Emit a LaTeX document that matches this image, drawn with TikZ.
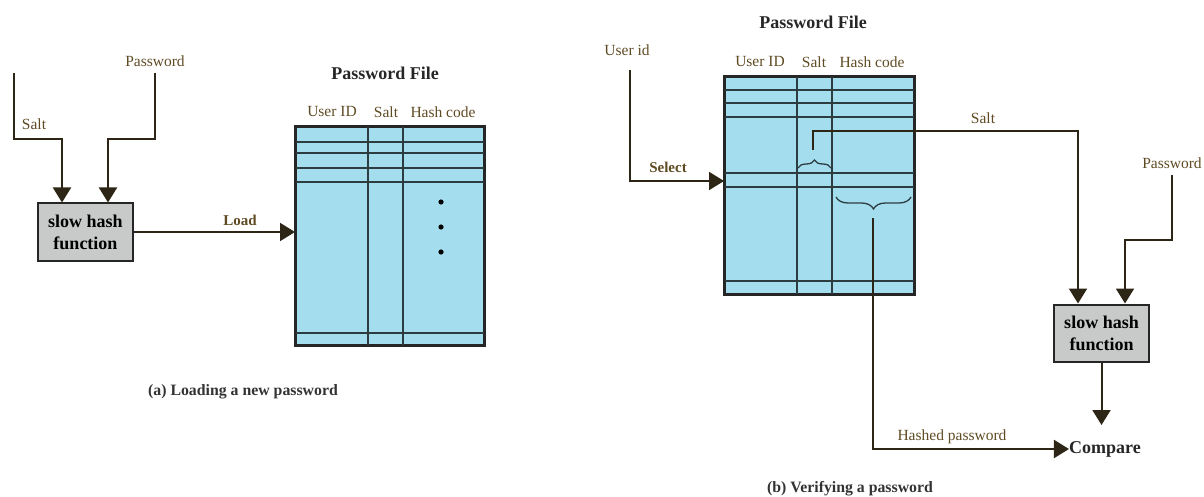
\documentclass[tikz,border=0pt]{standalone}
\usepackage{fontspec}
\setmainfont{Liberation Serif}
\usetikzlibrary{arrows.meta,decorations.pathreplacing}
\definecolor{tblfill}{RGB}{164,221,237}
\definecolor{boxfill}{RGB}{200,202,202}
\definecolor{conn}{RGB}{45,38,22}
\definecolor{lab}{RGB}{95,75,35}
\definecolor{rowc}{RGB}{45,60,65}
\tikzset{
  lbl/.style={inner sep=0pt, text=lab, font=\fontsize{15.5}{18}\selectfont},
  blbl/.style={inner sep=0pt, text=lab, font=\fontsize{15}{18}\selectfont\bfseries},
  ttl/.style={inner sep=0pt, text=black!85, font=\fontsize{18}{22}\selectfont\bfseries},
  captxt/.style={inner sep=0pt, text=black!80, font=\fontsize{15.8}{18}\selectfont\bfseries},
  hashbox/.style={draw=black!85, line width=2pt, fill=boxfill, inner sep=0pt,
    minimum width=95pt, minimum height=57pt, align=center,
    font=\fontsize{18}{22}\selectfont\bfseries},
  tbl/.style={draw=black!85, line width=2pt, fill=tblfill, inner sep=0pt},
  rowline/.style={draw=rowc, line width=1.8pt},
  colline/.style={draw=rowc, line width=1.5pt},
  wire/.style={draw=conn, line width=2pt},
  arr/.style={wire, -{Triangle[length=15pt,width=18pt]}},
  brc/.style={draw=rowc, line width=1.3pt, decorate},
}
\begin{document}
\begin{tikzpicture}[x=1pt,y=-1pt]
\useasboundingbox (0,0) rectangle (1204,497);

% ---------------- (a) Loading ----------------
\node[hashbox] (hL) at (85.5,232) {slow hash\\function};
\coordinate (saltL) at (14,73);
\coordinate (pwL) at (155,73);
\node[lbl] (saltLlab) at (34,124) {Salt};
\node[lbl] (pwLlab) at (155,61) {Password};
\draw[arr] (saltL) |- (62,139) -- (hL.north -| 62,0);
\draw[arr] (pwL) |- (108,139) -- (hL.north -| 108,0);

\node[tbl, minimum width=188pt, minimum height=218pt] (tL) at (390,236) {};
\foreach \y in {142,153,168,182,333}
  \draw[rowline] (tL.west |- 0,\y) -- (tL.east |- 0,\y);
\foreach \x in {368,403}
  \draw[colline] (\x,0 |- tL.north) -- (\x,0 |- tL.south);
\draw[tbl, fill=none] (tL.north west) rectangle (tL.south east);
\foreach \y in {202,227,252}
  \fill[black] (441,\y) circle (2.6pt);
\node[ttl] (pfL) at (385,73) {Password File};
\node[lbl] at (332,112) {User ID};
\node[lbl] at (386,112) {Salt};
\node[lbl] at (443,112) {Hash code};

\draw[arr] (hL.east) -- (tL.west |- hL.east);
\node[blbl] (loadlab) at (240,220) {Load};

\node[captxt] (capa) at (243,392) {(a) Loading a new password};

% ---------------- (b) Verifying ----------------
\node[tbl, minimum width=189pt, minimum height=217pt] (tR) at (819.5,185.5) {};
\foreach \y in {90,103,117,173,187,281}
  \draw[rowline] (tR.west |- 0,\y) -- (tR.east |- 0,\y);
\foreach \x in {797,832}
  \draw[colline] (\x,0 |- tR.north) -- (\x,0 |- tR.south);
\draw[tbl, fill=none] (tR.north west) rectangle (tR.south east);
\node[ttl] (pfR) at (813,22) {Password File};
\node[lbl] at (760,62) {User ID};
\node[lbl] at (814,62) {Salt};
\node[lbl] at (872,62) {Hash code};

% braces
\draw[brc, decoration={brace, amplitude=8pt}] (798,168) -- (831,168);
\draw[brc, decoration={brace, amplitude=12pt}] (911,197) -- (836,197);

% user id select
\node[lbl] (uidlab) at (627,50) {User id};
\coordinate (uid) at (630,70);
\draw[arr] (uid) |- (tR.west |- 0,181);
\node[blbl] (sellab) at (668,167) {Select};

% right hash box
\node[hashbox] (hR) at (1101.5,333) {slow hash\\function};
\node[ttl] (cmp) at (1105,449) {Compare};

% salt path
\coordinate (sbt) at (813,150);
\draw[arr] (sbt) |- (1078,131) -- (hR.north -| 1078,0);
\node[lbl] (saltRlab) at (983,118) {Salt};

% password path
\node[lbl] (pwRlab) at (1172,163) {Password};
\coordinate (pwR) at (1172,175);
\draw[arr] (pwR) |- (1125,240) -- (hR.north -| 1125,0);

% hashed password
\coordinate (hbt) at (873,218);
\draw[arr] (hbt) |- (cmp.west);
\node[lbl] (hplab) at (952,437) {Hashed password};

% output of hash
\draw[arr] (hR.south) -- (1101.5,425);

\node[captxt] (capb) at (850,489) {(b) Verifying a password};
\end{tikzpicture}
\end{document}
